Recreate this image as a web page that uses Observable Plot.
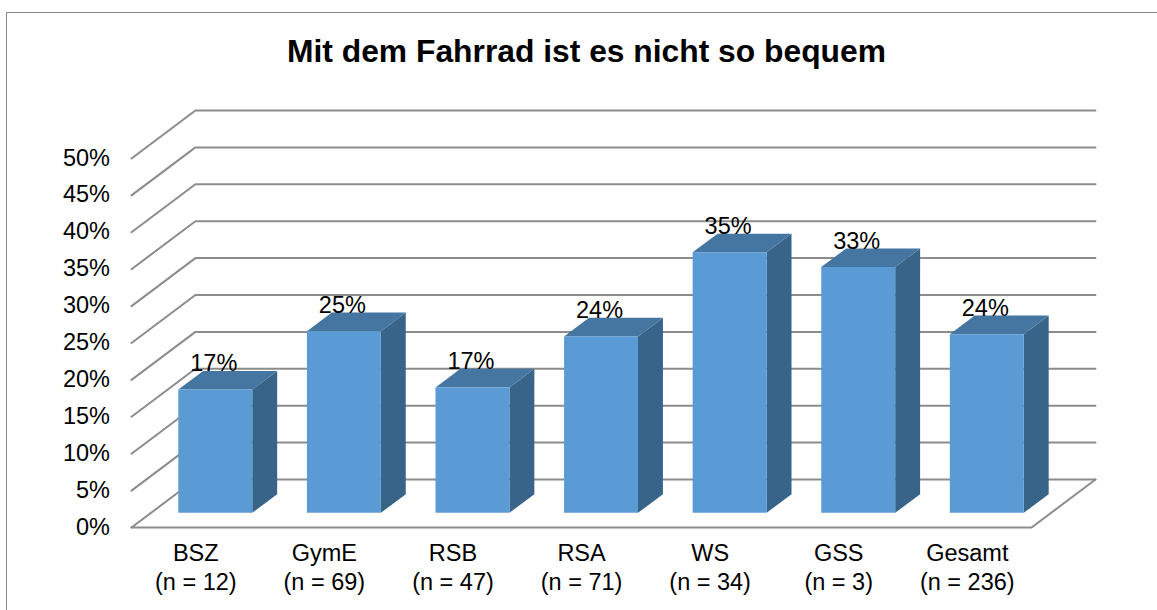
<!DOCTYPE html>
<html lang="de">
<head>
<meta charset="utf-8">
<script src="https://cdn.jsdelivr.net/npm/d3@7"></script>
<script src="https://cdn.jsdelivr.net/npm/@observablehq/plot@0.6"></script>
<style>
  html, body { margin: 0; padding: 0; background: #fff; overflow: hidden; }
  #chart { position: relative; width: 1157px; height: 610px; box-sizing: border-box; }
  #frame { position: absolute; left: 6px; top: 12px; right: 0; bottom: 0; border-top: 1px solid #8a8a8a; border-left: 1px solid #8a8a8a; pointer-events: none; }
  #title { height: 80px; box-sizing: border-box; padding-top: 32px; text-align: center; padding-left: 16px;
           font: bold 31.8px/38px "Liberation Sans", Arial, sans-serif; color: #000; white-space: nowrap; }
  svg { display: block; }
</style>
</head>
<body>
<div id="chart">
  <div id="frame"></div>
  <div id="title">Mit dem Fahrrad ist es nicht so bequem</div>
</div>
<script>
const categories = ["BSZ", "GymE", "RSB", "RSA", "WS", "GSS", "Gesamt"];
const sampleSizes = [12, 69, 47, 71, 34, 3, 236];
const values = [16.7, 24.6, 17.0, 23.9, 35.3, 33.3, 24.2];
const valueLabels = ["17%", "25%", "17%", "24%", "35%", "33%", "24%"];
const yTicks = [0, 5, 10, 15, 20, 25, 30, 35, 40, 45, 50];

// Oblique projection of the 3D chart, expressed in scale units
const wallX = 0.497, wallY = 6.5;          // full floor depth
const barGap = 0.2125, barDepthStart = 0.305, barDepthEnd = 0.695;
const px = (cat, depth) => cat + depth * wallX;
const py = (val, depth) => val + depth * wallY;

const gridLines = yTicks.flatMap(v => [
  {v, x: px(0, 0), y: py(v, 0)},
  {v, x: px(0, 1), y: py(v, 1)},
  {v, x: px(categories.length, 1), y: py(v, 1)}
]);
const floorEdge = [
  {x: px(0, 0), y: py(0, 0)},
  {x: px(categories.length, 0), y: py(0, 0)},
  {x: px(categories.length, 1), y: py(0, 1)}
];

const faces = values.flatMap((v, i) => {
  const x0 = i + barGap, x1 = i + 1 - barGap;
  const a = barDepthStart, b = barDepthEnd;
  const poly = (face, pts) => pts.map(([c, h, d]) => ({key: i + face, face, x: px(c, d), y: py(h, d)}));
  return [
    ...poly("side", [[x1, 0, a], [x1, 0, b], [x1, v, b], [x1, v, a]]),
    ...poly("top", [[x0, v, a], [x1, v, a], [x1, v, b], [x0, v, b]]),
    ...poly("front", [[x0, 0, a], [x1, 0, a], [x1, v, a], [x0, v, a]])
  ];
});
const faceColor = {front: "#5b9bd5", side: "#38648a", top: "#4575a1"};

const labels = values.map((v, i) => ({
  x: px(i + 0.5, barDepthStart), y: py(v, barDepthStart), text: valueLabels[i]
}));

const plot = Plot.plot({
  width: 1157,
  height: 530,
  marginLeft: 131,
  marginRight: 62,
  marginTop: 30,
  marginBottom: 83,
  x: {domain: [0, categories.length + wallX]},
  y: {domain: [0, 50 + wallY]},
  style: {fontFamily: '"Liberation Sans", Arial, sans-serif', background: "transparent", color: "#000"},
  marks: [
    Plot.line(gridLines, {x: "x", y: "y", z: "v", stroke: "#8c8c8c", strokeWidth: 2, strokeLinejoin: "miter"}),
    Plot.line(floorEdge, {x: "x", y: "y", stroke: "#8c8c8c", strokeWidth: 2}),
    Plot.line(faces, {x: "x", y: "y", z: "key", fill: d => faceColor[d.face], stroke: "none"}),
    Plot.text(labels, {x: "x", y: "y", text: "text", dx: -1.5, dy: -26, fontSize: 23.5, fill: "#000"}),
    Plot.axisY({
      ticks: yTicks, tickSize: 0, tickPadding: 21.5, dy: -0.5, label: null,
      tickFormat: d => d + "%", fontSize: 23.5, fill: "#000"
    }),
    Plot.axisX({
      ticks: categories.map((c, i) => i + 0.5), tickSize: 0, tickPadding: 13, label: null,
      tickFormat: x => { const i = Math.floor(x); return `${categories[i]}\n(n = ${sampleSizes[i]})`; },
      fontSize: 23.5, lineHeight: 1.24, fill: "#000"
    })
  ]
});
document.getElementById("chart").appendChild(plot);
</script>
</body>
</html>
